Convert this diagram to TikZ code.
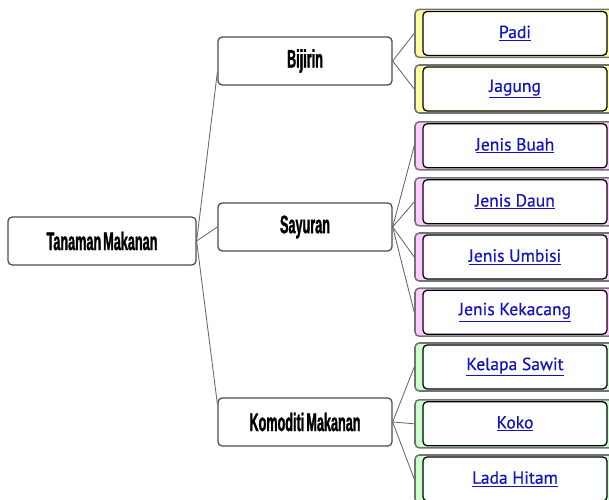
\documentclass[tikz,border=0pt]{standalone}
\usepackage{fontspec}
\usepackage{tikz}
\usetikzlibrary{positioning}
\newfontfamily\headfont[FakeStretch=0.5, FakeBold=1.2, WordSpace=0.6]{Liberation Sans}
\newfontfamily\linkfont[FakeBold=0.5]{PT Sans}
\definecolor{leafyellow}{RGB}{255,255,160}
\definecolor{leafpink}{RGB}{255,204,255}
\definecolor{leafgreen}{RGB}{204,255,204}
\definecolor{linkblue}{RGB}{20,20,190}

\begin{document}
\begin{tikzpicture}[
  %% styles
  topic/.style={rectangle, rounded corners=3pt,
                draw=black!70, line width=0.9pt, fill=white,
                minimum width=#1, minimum height=1.2cm, inner sep=0pt,
                font=\headfont\bfseries\fontsize{18}{20}\selectfont},
  leaf/.style={rectangle, rounded corners=3pt,
               draw=black!55, line width=1.1pt, fill=#1,
               minimum width=5cm, minimum height=1.2cm, inner sep=0pt,
               font=\linkfont\fontsize{12.5}{14}\selectfont, text=linkblue,
               path picture={
                 \draw[black, line width=0.9pt, fill=white]
                   ([xshift=0.2cm, yshift=0.05cm]path picture bounding box.south west)
                   rectangle
                   ([xshift=-0.2cm, yshift=-0.05cm]path picture bounding box.north east);
               }},
  link/.style={draw=black!60, line width=0.6pt},
]

%% page frame
\clip (0,0) rectangle (15.225,12.475);
\useasboundingbox (0,0) rectangle (15.225,12.475);

%%
%% column x-centres and leaf rows
%%
\def\Cx{7.625}  % topics
\def\Lx{12.875} % leaves

%% ------ root -----------------------------------------------------------
\node[topic=4.7cm] (root) at (2.55, 6.45) {Tanaman Makanan};

%% ------ topics ---------------------------------------------------------
\node[topic=4.35cm] (bijirin) at (\Cx, 10.95) {Bijirin};
\node[topic=4.35cm] (sayuran) at (\Cx, 6.80)  {Sayuran};
\node[topic=4.35cm] (komoditi) at (\Cx, 1.925) {Komoditi Makanan};

%% ------ leaves ---------------------------------------------------------
%% Bijirin
\node[leaf=leafyellow] (padi)   at (\Lx, 11.64) {\underline{Padi}};
\node[leaf=leafyellow] (jagung) at (\Lx, 10.25) {\underline{Jagung}};

%% Sayuran
\node[leaf=leafpink] (buah)     at (\Lx, 8.83) {\underline{Jenis Buah}};
\node[leaf=leafpink] (daun)     at (\Lx, 7.43) {\underline{Jenis Daun}};
\node[leaf=leafpink] (umbisi)   at (\Lx, 6.05) {\underline{Jenis Umbisi}};
\node[leaf=leafpink] (kekacang) at (\Lx, 4.67) {\underline{Jenis Kekacang}};

%% Komoditi Makanan
\node[leaf=leafgreen] (sawit) at (\Lx, 3.30) {\underline{Kelapa Sawit}};
\node[leaf=leafgreen] (koko)  at (\Lx, 1.88) {\underline{Koko}};
\node[leaf=leafgreen] (lada)  at (\Lx, 0.50) {\underline{Lada Hitam}};

%% ------ connectors -----------------------------------------------------
\draw[link] (root.east) -- ([yshift=-0.28cm]bijirin.west);
\draw[link] (root.east) -- (sayuran.west);
\draw[link] (root.east) -- ([yshift=0.45cm]komoditi.west);

\draw[link] (bijirin.east) -- (padi.west);
\draw[link] (bijirin.east) -- (jagung.west);

\draw[link] (sayuran.east) -- (buah.west);
\draw[link] (sayuran.east) -- (daun.west);
\draw[link] (sayuran.east) -- (umbisi.west);
\draw[link] (sayuran.east) -- (kekacang.west);

\draw[link] (komoditi.east) -- (sawit.west);
\draw[link] (komoditi.east) -- (koko.west);
\draw[link] (komoditi.east) -- (lada.west);

\end{tikzpicture}
\end{document}
